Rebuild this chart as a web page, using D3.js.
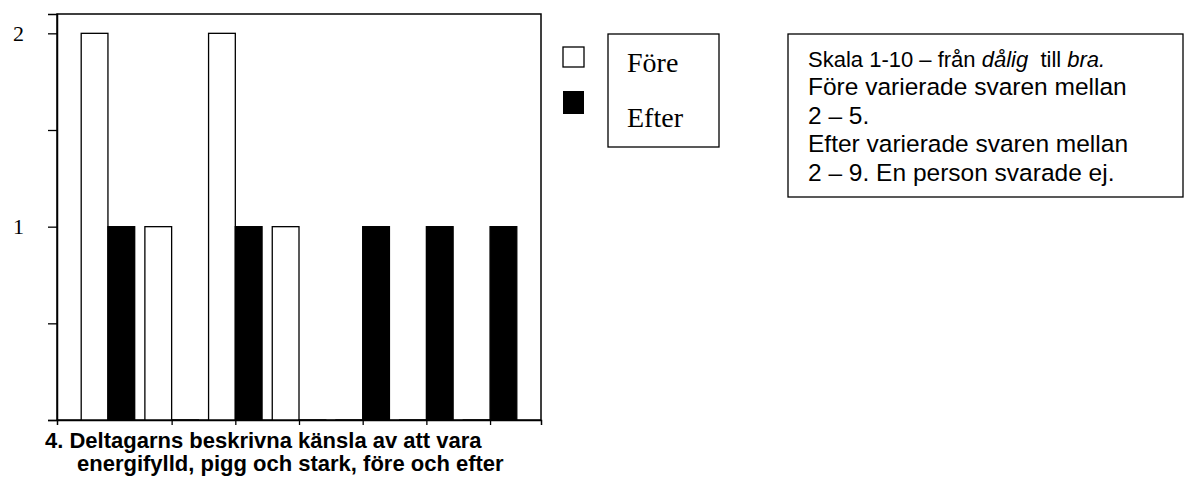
<!DOCTYPE html>
<html>
<head>
<meta charset="utf-8">
<script src="https://cdn.jsdelivr.net/npm/d3@7"></script>
<style>
  html, body { margin: 0; padding: 0; background: #fff; }
  svg { display: block; }
</style>
</head>
<body>
<svg id="chart" width="1184" height="479"></svg>
<script>
// ---- data ----
const categories = [1, 2, 3, 4, 5, 6, 7];
const foreValues = [2, 1, 2, 1, 0, 0, 0];
const efterValues = [1, 0, 1, 0, 1, 1, 1];
const seriesNames = ["Före", "Efter"];
const yTickValues = [0, 0.5, 1, 1.5, 2];
const yTickLabels = ["", "", "1", "", "2"];
const xTickCategories = [2, 3, 4, 5, 6, 7];
const titleLines = ["4. Deltagarns beskrivna känsla av att vara", "energifylld, pigg och stark, före och efter"];
const noteLine1 = [
  { t: "Skala 1-10 – från ", i: false },
  { t: "dålig", i: true },
  { t: "  till ", i: false },
  { t: "bra.", i: true }
];
const noteLines = ["Före varierade svaren mellan", "2 – 5.", "Efter varierade svaren mellan", "2 – 9. En person svarade ej."];

// ---- layout ----
const svg = d3.select("#chart");
const plot = { left: 57, right: 541, top: 14, bottom: 420 };

const x = d3.scaleLinear().domain([0.2, 7.8]).range([plot.left, plot.right]);
const y = d3.scaleLinear().domain([0, 2.1]).range([plot.bottom, plot.top]);
const step = x(2) - x(1);
const barW = step * 0.42;

const rows = categories.map((c, i) => ({ c, fore: foreValues[i], efter: efterValues[i] }));

// frame
svg.append("rect")
  .attr("x", plot.left).attr("y", plot.top)
  .attr("width", plot.right - plot.left).attr("height", plot.bottom - plot.top)
  .attr("fill", "none").attr("stroke", "#000").attr("stroke-width", 1.5);

// bars
const g = svg.append("g");
g.selectAll("rect.fore").data(rows).join("rect")
  .attr("class", "fore")
  .attr("x", d => x(d.c) - barW)
  .attr("width", barW)
  .attr("y", d => y(d.fore))
  .attr("height", d => Math.max(0.01, y(0) - y(d.fore)))
  .attr("fill", "#fff").attr("stroke", "#000").attr("stroke-width", 1.3);
g.selectAll("rect.efter").data(rows).join("rect")
  .attr("class", "efter")
  .attr("x", d => x(d.c))
  .attr("width", barW)
  .attr("y", d => y(d.efter))
  .attr("height", d => Math.max(0.01, y(0) - y(d.efter)))
  .attr("fill", "#000").attr("stroke", "#000").attr("stroke-width", 1.3);

// y axis
const yAxis = d3.axisLeft(y).tickValues(yTickValues).tickSize(9)
  .tickFormat((d, i) => yTickLabels[i]).tickPadding(24);
const ya = svg.append("g").attr("transform", `translate(${plot.left},0)`).call(yAxis);
ya.select(".domain").attr("stroke", "#000").attr("stroke-width", 1.5);
ya.selectAll(".tick line").attr("stroke", "#000").attr("stroke-width", 1.3);
ya.selectAll(".tick text")
  .attr("font-family", "'Liberation Serif', 'Times New Roman', serif")
  .attr("font-size", 22).attr("fill", "#000")
  .attr("dy", "0.32em");

// x axis
const xAxis = d3.axisBottom(x).tickValues(xTickCategories).tickSize(5).tickFormat("");
const xa = svg.append("g").attr("transform", `translate(0,${plot.bottom})`).call(xAxis);
xa.select(".domain").attr("stroke", "#000").attr("stroke-width", 1.5);
xa.selectAll(".tick line").attr("stroke", "#000").attr("stroke-width", 1.3);

// title below
const title = svg.append("g")
  .attr("font-family", "'Liberation Sans', Arial, sans-serif")
  .attr("font-weight", "bold").attr("font-size", 22).attr("fill", "#000");
title.append("text").attr("x", 45).attr("y", 448).text(titleLines[0]);
title.append("text").attr("x", 77).attr("y", 471).text(titleLines[1]);

// legend
const leg = svg.append("g");
leg.append("rect").attr("x", 563).attr("y", 47).attr("width", 21).attr("height", 20)
  .attr("fill", "#fff").attr("stroke", "#000").attr("stroke-width", 1.3);
leg.append("rect").attr("x", 563).attr("y", 91).attr("width", 21).attr("height", 23)
  .attr("fill", "#000");
leg.append("rect").attr("x", 608).attr("y", 34).attr("width", 111).attr("height", 113)
  .attr("fill", "none").attr("stroke", "#000").attr("stroke-width", 1.3);
leg.selectAll("text").data(seriesNames).join("text")
  .attr("x", 627).attr("y", (d, i) => i === 0 ? 72 : 127)
  .attr("font-family", "'Liberation Serif', 'Times New Roman', serif")
  .attr("font-size", 28).attr("fill", "#000")
  .text(d => d);

// note box
const note = svg.append("g").attr("font-family", "'Liberation Sans', Arial, sans-serif").attr("fill", "#000");
note.append("rect").attr("x", 788).attr("y", 34).attr("width", 395).attr("height", 163)
  .attr("fill", "none").attr("stroke", "#000").attr("stroke-width", 1.3);
const t1 = note.append("text").attr("x", 808).attr("y", 67).attr("font-size", 22).attr("xml:space", "preserve");
noteLine1.forEach(p => t1.append("tspan").attr("font-style", p.i ? "italic" : "normal").text(p.t));
note.selectAll("text.nl").data(noteLines).join("text")
  .attr("class", "nl")
  .attr("x", 808).attr("y", (d, i) => 95 + i * 28.7)
  .attr("font-size", 24.5)
  .text(d => d);
</script>
</body>
</html>
